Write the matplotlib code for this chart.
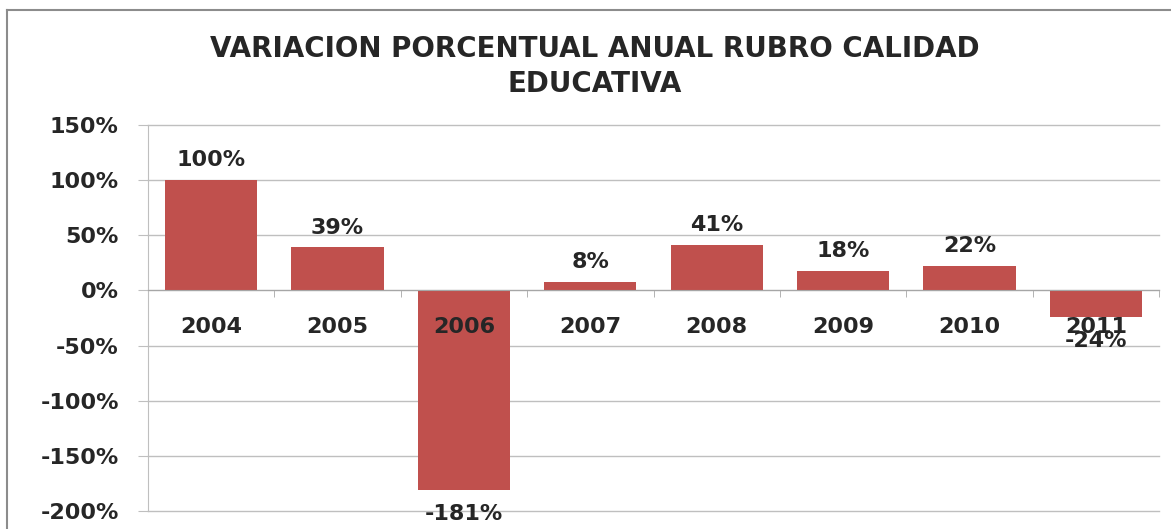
import matplotlib.pyplot as plt
from matplotlib.lines import Line2D
from matplotlib.ticker import FuncFormatter, FixedLocator

plt.rcParams['font.family'] = ['DejaVu Sans']

years = ['2004', '2005', '2006', '2007', '2008', '2009', '2010', '2011']
variacion = [100, 39, -181, 8, 41, 18, 22, -24]

barColor = '#C0504D'
gridColor = '#BFBFBF'
textColor = '#262626'
fs = 16

fig = plt.figure(figsize=(11.71, 5.29), dpi=100)
ax = fig.add_axes([0.1264, 0.034, 0.8634, 0.7297])
ax.set_axisbelow(True)

x = list(range(len(years)))
ax.bar(x, variacion, width=0.73, color=barColor, zorder=2)

ax.set_xlim(-0.5, len(years) - 0.5)
ax.set_ylim(-200, 150)
ax.set_yticks(range(-200, 151, 50))
ax.yaxis.set_major_formatter(FuncFormatter(lambda v, p: '%d%%' % v))
ax.grid(axis='y', color=gridColor, linewidth=1)
for gl in ax.get_ygridlines():
    gl.set_clip_on(False)

for s in ['top', 'right']:
    ax.spines[s].set_visible(False)
ax.spines['left'].set_color(gridColor)
ax.spines['bottom'].set_position(('data', 0))
ax.spines['bottom'].set_color('#A6A6A6')

# category labels drawn as text so they sit on top of the bars
ax.set_xticks(x)
ax.set_xticklabels([])
ax.tick_params(axis='x', which='major', length=0)
ax.xaxis.set_minor_locator(FixedLocator([i + 0.5 for i in range(len(years))]))
ax.tick_params(axis='x', which='minor', length=5, color='#A6A6A6')
for xi, yr in zip(x, years):
    ax.annotate(yr, (xi, 0), xytext=(0, -19), textcoords='offset points',
                ha='center', va='top', fontsize=fs, fontweight='bold',
                color=textColor, zorder=4)

ax.tick_params(axis='y', length=7, color=gridColor, labelsize=fs, pad=14)
for lbl in ax.get_yticklabels():
    lbl.set_fontweight('bold')
    lbl.set_color(textColor)

for xi, v in zip(x, variacion):
    if v >= 0:
        ax.annotate('%d%%' % v, (xi, v), xytext=(0, 7), textcoords='offset points',
                    ha='center', va='bottom', fontsize=fs, fontweight='bold',
                    color=textColor, zorder=4)
    else:
        ax.annotate('%d%%' % v, (xi, v), xytext=(0, -10), textcoords='offset points',
                    ha='center', va='top', fontsize=fs, fontweight='bold',
                    color=textColor, zorder=4, annotation_clip=False)

fig.text(0.508, 0.874, 'VARIACION PORCENTUAL ANUAL RUBRO CALIDAD\nEDUCATIVA',
         ha='center', va='center', fontsize=20, fontweight='bold', color=textColor,
         linespacing=1.3)

# chart frame: left and top edges
fig.add_artist(Line2D([0.006, 0.006], [0, 0.981], transform=fig.transFigure,
                      color='#8C8C8C', linewidth=1.5))
fig.add_artist(Line2D([0.006, 1.0], [0.981, 0.981], transform=fig.transFigure,
                      color='#8C8C8C', linewidth=1.5))

fig.savefig('out.png', dpi=100)
